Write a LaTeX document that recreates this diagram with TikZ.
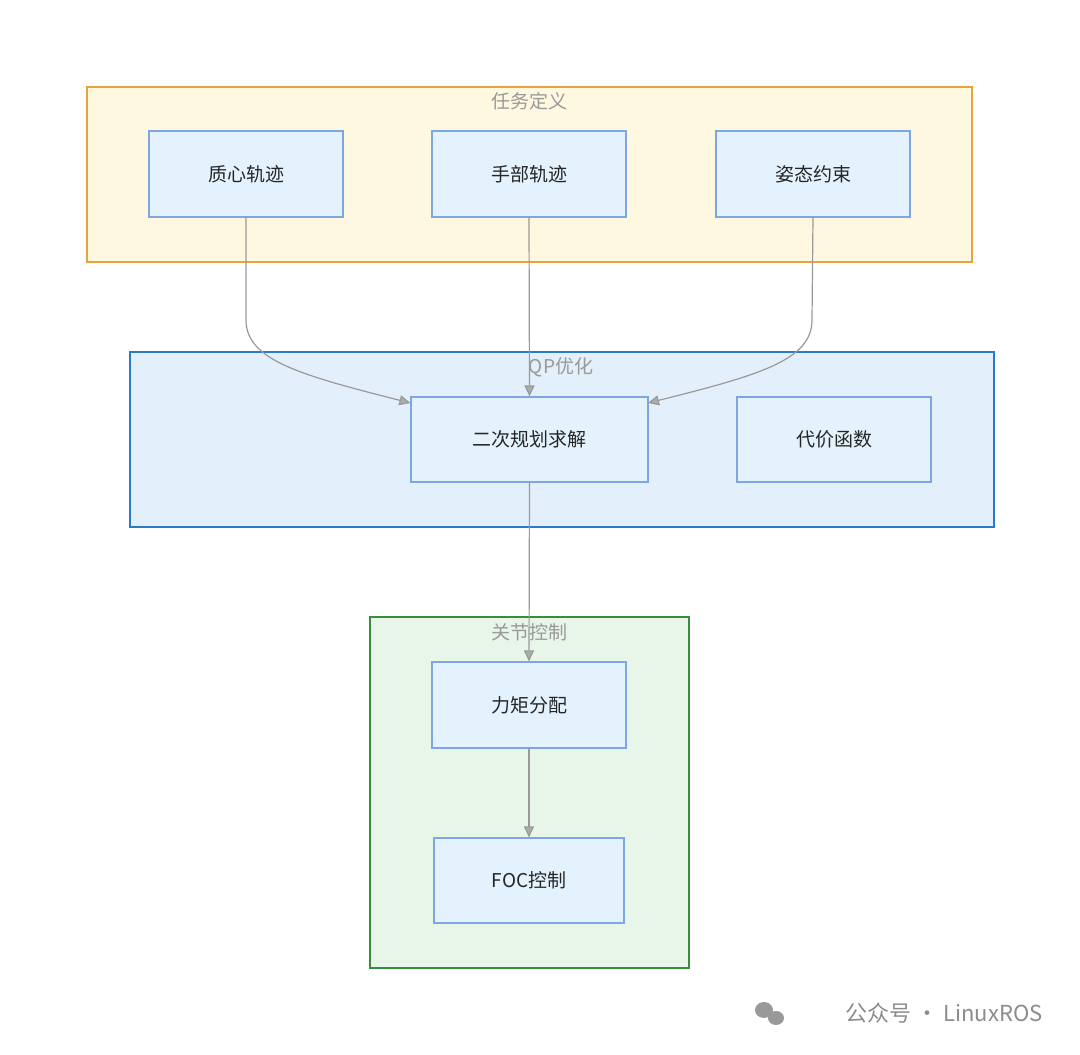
\documentclass[tikz,border=0pt]{standalone}
\usepackage{fontspec}
\setmainfont{Noto Sans CJK SC}
\usetikzlibrary{arrows.meta}
\definecolor{grpY}{HTML}{FFF8E1}\definecolor{grpYb}{HTML}{E8A33D}
\definecolor{grpB}{HTML}{E3EFFB}\definecolor{grpBb}{HTML}{2B7BC8}
\definecolor{grpG}{HTML}{E8F5E9}\definecolor{grpGb}{HTML}{3A8E3A}
\definecolor{nodeF}{HTML}{E3F2FD}\definecolor{nodeB}{HTML}{7EA6E0}
\definecolor{edge}{HTML}{999999}
\begin{document}
\begin{tikzpicture}[x=1pt,y=-1pt,
  grp/.style={draw=#1,line width=1.2pt},
  box/.style={draw=nodeB,fill=nodeF,line width=1.2pt,font=\fontsize{19}{22}\selectfont,text=black!85},
  ttl/.style={font=\fontsize{19}{22}\selectfont,text=black!40},
  arr/.style={draw=edge,line width=1.2pt,-{Triangle[length=11pt,width=10pt,fill=edge!80]}}]
\useasboundingbox[fill=white] (0,0) rectangle (1080,1055);
\draw[grp=grpYb,fill=grpY] (87,87) rectangle (972,262);
\draw[grp=grpBb,fill=grpB] (130,352) rectangle (994,527);
\draw[grp=grpGb,fill=grpG] (370,617) rectangle (689,968);
\node[ttl] (t1) at (529,101) {任务定义};
\node[ttl] (t3) at (529,632) {关节控制};
\node[box,minimum width=194pt,minimum height=86pt] (a) at (246,174) {质心轨迹};
\node[box,minimum width=194pt,minimum height=86pt] (b) at (529,174) {手部轨迹};
\node[box,minimum width=194pt,minimum height=86pt] (c) at (813,174) {姿态约束};
\node[box,minimum width=237pt,minimum height=85pt] (q) at (529.5,439.5) {二次规划求解};
\node[box,minimum width=194pt,minimum height=85pt] (k) at (834,439.5) {代价函数};
\node[box,minimum width=194pt,minimum height=86pt] (m) at (529,705) {力矩分配};
\node[box,minimum width=190pt,minimum height=85pt] (f) at (529,880.5) {FOC控制};
\draw[arr] (a.south) -- (246,320) .. controls (246,360) and (300,375) .. (q.north west |- 0,403) coordinate (qa) ;
\draw[arr] (b.south) -- (q.north);
\draw[arr] (c.south) -- (812,320) .. controls (812,360) and (760,375) .. (648,403);
\draw[arr] (q.south) -- (m.north);
\draw[arr] (m.south) -- (f.north);
\node[ttl] (t2) at (561,367) {QP优化};
\node[font=\fontsize{22}{26}\selectfont,text=black!45,anchor=east] (wm) at (1046,1013) {公众号 · LinuxROS};
\fill[black!40] (764,1010) ellipse (9pt and 8pt);
\fill[black!40] (776,1018) ellipse (8pt and 7pt);
\end{tikzpicture}
\end{document}
